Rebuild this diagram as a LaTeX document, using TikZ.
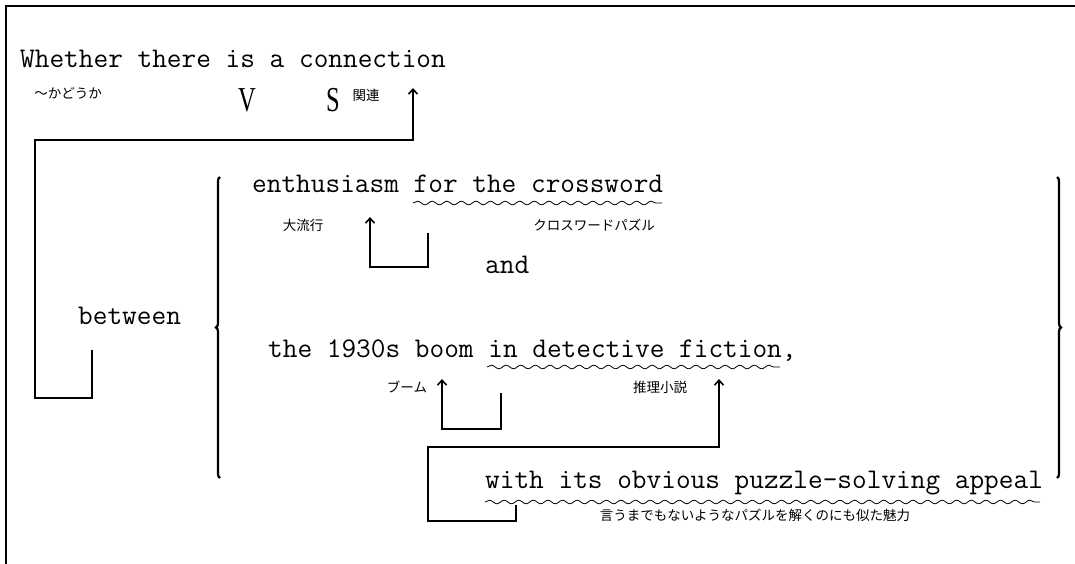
\documentclass[tikz,border=0pt]{standalone}
\usepackage{fontspec}
\newfontfamily\jp{Noto Sans CJK JP}
\newfontfamily\vsfont{Liberation Serif}
\usetikzlibrary{arrows.meta,decorations.pathmorphing,decorations.pathreplacing}
\tikzset{
 en/.style={font=\fontsize{28.5}{30}\selectfont\ttfamily, inner sep=0pt, anchor=base west},
 ja/.style={font=\fontsize{13.5}{15}\selectfont\jp, inner sep=0pt},
 big/.style={font=\fontsize{35}{37}\selectfont\vsfont, inner sep=0pt, anchor=base, xscale=0.7},
 conn/.style={line width=1.6pt, -{Straight Barb[length=5pt,width=9pt]}},
 wavy/.style={line width=0.8pt, decorate, decoration={snake, segment length=14.6pt, amplitude=1.8pt}},
 bracestyle/.style={line width=2.2pt, decorate, decoration={brace, amplitude=4pt}},
 frame/.style={line width=2pt},
}
\begin{document}
\begin{tikzpicture}[x=1pt,y=-1pt]
\useasboundingbox (0,0) rectangle (1075,564);
% frame
\coordinate (fb) at (6,564);
\coordinate (fc) at (6,6);
\coordinate (fr) at (1075,6);
\draw[frame] (fb) -- (fc) -- (fr);

% line 1
\node[en] (whether) at (20,68) {Whether there is a connection};
\node[ja] (kadouka) at (68,93) {〜かどうか};
\node[big] (V) at (247,112) {V};
\node[big] (S) at (333,112) {S};
\node[ja] (kanren) at (366,95) {関連};

% between
\node[en] (between) at (78,324) {between};

% braces
\coordinate (lb1) at (220,478);
\coordinate (lb2) at (220,177);
\draw[bracestyle] (lb1) -- (lb2);
\coordinate (rb1) at (1057,177);
\coordinate (rb2) at (1057,478);
\draw[bracestyle] (rb1) -- (rb2);

% first item
\node[en] (enth) at (252,193) {enthusiasm for the crossword};
\node[ja] (dairyuko) at (303,225) {大流行};
\node[ja] (crossjp) at (594,225) {クロスワードパズル};
\node[en] (and) at (485,273) {and};

% second item
\node[en] (boom) at (268,357) {the 1930s boom in detective fiction,};
\node[ja] (buumu) at (407,387) {ブーム};
\node[ja] (suiri) at (660,387) {推理小説};

% third
\node[en] (with) at (485,488) {with its obvious puzzle-solving appeal};
\node[ja] (iumademo) at (755,515) {言うまでもないようなパズルを解くのにも似た魅力};

% wavy underlines
\coordinate (w1a) at (413,203); \coordinate (w1b) at (662,203);
\draw[wavy] (w1a) -- (w1b);
\coordinate (w2a) at (487,367); \coordinate (w2b) at (780,367);
\draw[wavy] (w2a) -- (w2b);
\coordinate (w3a) at (485,502); \coordinate (w3b) at (1040,502);
\draw[wavy] (w3a) -- (w3b);

% connector A: between -> connection
\coordinate (a0) at (92,350);
\coordinate (a1) at (92,398);
\coordinate (a2) at (35,398);
\coordinate (a3) at (35,140);
\coordinate (a4) at (413,140);
\coordinate (a5) at (413,88);
\draw[conn] (a0) -- (a1) -- (a2) -- (a3) -- (a4) -- (a5);

% connector B
\coordinate (b0) at (428,233);
\coordinate (b1) at (428,267);
\coordinate (b2) at (370,267);
\coordinate (b3) at (370,217);
\draw[conn] (b0) -- (b1) -- (b2) -- (b3);

% connector C
\coordinate (c0) at (501,393);
\coordinate (c1) at (501,429);
\coordinate (c2) at (442,429);
\coordinate (c3) at (442,379);
\draw[conn] (c0) -- (c1) -- (c2) -- (c3);

% connector D
\coordinate (d0) at (516,505);
\coordinate (d1) at (516,521);
\coordinate (d2) at (428,521);
\coordinate (d3) at (428,447);
\coordinate (d4) at (719,447);
\coordinate (d5) at (719,379);
\draw[conn] (d0) -- (d1) -- (d2) -- (d3) -- (d4) -- (d5);
\end{tikzpicture}
\end{document}
